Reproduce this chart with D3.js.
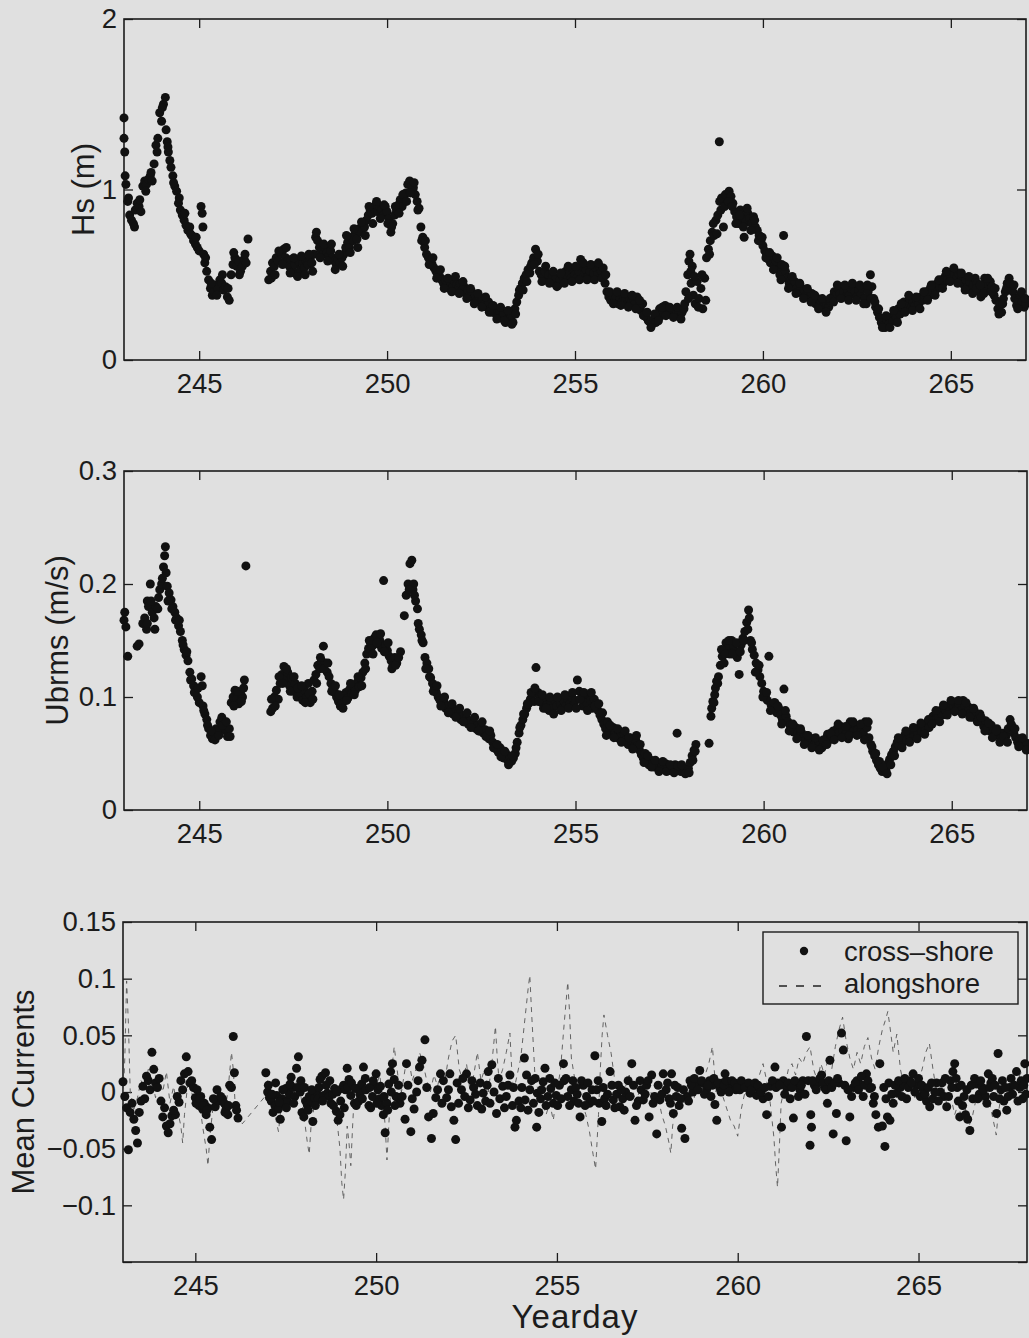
<!DOCTYPE html>
<html><head><meta charset="utf-8">
<script src="https://cdn.jsdelivr.net/npm/d3@7"></script>
<style>
html,body{margin:0;padding:0;background:#e0e0e0;}
svg{display:block;}
text{font-family:"Liberation Sans",Arial,Helvetica,sans-serif;fill:#1c1c1c;}
</style></head><body>
<svg id="chart" width="1029" height="1338"></svg>
<script>
// ---------- data (yearday, value) ----------
const hsData = [
[243.00,1.42],[243.00,1.30],[243.02,1.22],[243.03,1.08],[243.05,1.03],[243.10,0.93],[243.15,0.85],[243.20,0.82],[243.25,0.80],[243.30,0.88],
[243.35,0.92],[243.40,0.90],[243.45,0.87],[243.50,1.02],[243.55,1.05],[243.60,1.03],[243.65,1.06],[243.70,1.08],[243.75,1.05],[243.80,1.15],
[243.85,1.26],[243.90,1.30],[243.95,1.45],[244.00,1.40],[244.05,1.50],[244.10,1.54],[244.12,1.35],[244.15,1.28],[244.18,1.22],[244.22,1.17],
[244.25,1.13],[244.30,1.08],[244.35,1.02],[244.40,0.99],[244.45,0.92],[244.50,0.88],[244.55,0.85],[244.60,0.82],[244.65,0.79],[244.70,0.76],
[244.75,0.78],[244.80,0.73],[244.85,0.70],[244.90,0.68],[244.95,0.66],[245.00,0.64],[245.05,0.90],[245.08,0.86],[245.10,0.78],[245.12,0.62],
[245.15,0.57],[245.20,0.52],[245.25,0.47],[245.30,0.42],[245.35,0.38],[245.40,0.40],[245.45,0.44],[245.50,0.42],[245.55,0.47],[245.60,0.45],
[245.65,0.41],[245.70,0.43],[245.75,0.37],[245.80,0.35],[245.85,0.50],[245.90,0.56],[245.95,0.60],[246.00,0.55],[246.05,0.58],[246.10,0.52],
[246.15,0.55],[246.20,0.59],[246.25,0.57],[246.30,0.71],
[246.85,0.47],[246.90,0.52],[246.95,0.57],[247.00,0.55],[247.05,0.60],[247.10,0.58],[247.15,0.63],[247.20,0.62],[247.25,0.65],[247.30,0.60],
[247.35,0.58],[247.40,0.55],[247.45,0.59],[247.50,0.52],[247.55,0.56],[247.60,0.50],[247.65,0.58],[247.70,0.53],[247.75,0.57],[247.80,0.54],
[247.85,0.58],[247.90,0.56],[247.95,0.60],[248.00,0.57],[248.05,0.62],[248.10,0.72],[248.15,0.70],[248.20,0.66],[248.25,0.64],[248.30,0.62],
[248.35,0.66],[248.40,0.63],[248.45,0.61],[248.50,0.64],[248.55,0.60],[248.60,0.58],[248.65,0.56],[248.70,0.59],[248.75,0.57],[248.80,0.60],
[248.85,0.62],[248.90,0.66],[248.95,0.69],[249.00,0.66],[249.05,0.72],[249.10,0.70],[249.15,0.74],[249.20,0.71],[249.25,0.77],[249.30,0.75],
[249.35,0.80],[249.40,0.78],[249.45,0.82],[249.50,0.85],[249.55,0.88],[249.60,0.86],[249.65,0.89],[249.70,0.91],[249.75,0.87],[249.80,0.90],
[249.85,0.88],[249.90,0.85],[249.95,0.90],[250.00,0.87],[250.05,0.83],[250.10,0.75],[250.15,0.80],[250.20,0.85],[250.25,0.88],[250.30,0.91],
[250.35,0.94],[250.40,0.90],[250.45,0.96],[250.50,0.98],[250.55,1.03],[250.60,1.05],[250.65,1.02],[250.70,1.01],[250.75,0.97],[250.80,0.93],
[250.85,0.89],[250.90,0.78],[250.95,0.72],[251.00,0.66],[251.05,0.62],[251.10,0.60],[251.15,0.58],[251.20,0.56],[251.25,0.54],[251.30,0.52],
[251.35,0.50],[251.40,0.49],[251.45,0.47],[251.50,0.45],[251.55,0.47],[251.60,0.44],[251.65,0.42],[251.70,0.45],[251.75,0.43],[251.80,0.46],
[251.85,0.44],[251.90,0.42],[251.95,0.45],[252.00,0.41],[252.05,0.43],[252.10,0.39],[252.15,0.41],[252.20,0.38],[252.25,0.40],[252.30,0.36],
[252.35,0.38],[252.40,0.35],[252.45,0.37],[252.50,0.34],[252.55,0.36],[252.60,0.33],[252.65,0.31],[252.70,0.34],[252.75,0.30],[252.80,0.28],
[252.85,0.30],[252.90,0.27],[252.95,0.26],[253.00,0.28],[253.05,0.25],[253.10,0.27],[253.15,0.22],[253.20,0.24],[253.25,0.28],[253.30,0.25],
[253.35,0.22],[253.40,0.30],[253.45,0.34],[253.50,0.38],[253.55,0.42],[253.60,0.45],[253.65,0.48],[253.70,0.50],[253.75,0.53],[253.80,0.51],
[253.85,0.57],[253.90,0.60],[253.95,0.65],[254.00,0.58],[254.05,0.52],[254.10,0.50],[254.15,0.48],[254.20,0.52],[254.25,0.47],[254.30,0.50],
[254.35,0.46],[254.40,0.49],[254.45,0.45],[254.50,0.48],[254.55,0.44],[254.60,0.47],[254.65,0.50],[254.70,0.48],[254.75,0.52],[254.80,0.49],
[254.85,0.51],[254.90,0.48],[254.95,0.53],[255.00,0.50],[255.05,0.48],[255.10,0.52],[255.15,0.59],[255.20,0.55],[255.25,0.50],[255.30,0.53],
[255.35,0.49],[255.40,0.52],[255.45,0.48],[255.50,0.51],[255.55,0.54],[255.60,0.50],[255.65,0.55],[255.70,0.52],[255.75,0.54],[255.80,0.45],
[255.85,0.40],[255.90,0.37],[255.95,0.35],[256.00,0.38],[256.05,0.34],[256.10,0.37],[256.15,0.33],[256.20,0.36],[256.25,0.34],[256.30,0.37],
[256.35,0.35],[256.40,0.33],[256.45,0.36],[256.50,0.34],[256.55,0.36],[256.60,0.33],[256.65,0.37],[256.70,0.31],[256.75,0.29],[256.80,0.33],
[256.85,0.27],[256.90,0.25],[256.95,0.23],[257.00,0.22],[257.05,0.21],[257.10,0.24],[257.15,0.22],[257.20,0.27],[257.25,0.30],[257.30,0.26],
[257.35,0.28],[257.40,0.32],[257.45,0.29],[257.50,0.27],[257.55,0.30],[257.60,0.28],[257.65,0.26],[257.70,0.29],[257.75,0.27],[257.80,0.25],
[257.85,0.28],[257.90,0.30],[257.95,0.40],[258.00,0.50],[258.03,0.58],[258.06,0.62],[258.09,0.45],[258.12,0.55],[258.15,0.38],[258.20,0.33],
[258.25,0.46],[258.30,0.36],[258.35,0.42],[258.40,0.30],[258.45,0.48],[258.50,0.60],[258.55,0.65],[258.60,0.70],[258.65,0.75],[258.70,0.73],
[258.75,0.82],[258.80,0.85],[258.84,1.28],[258.85,0.93],[258.90,0.95],[258.95,0.78],[259.00,0.97],[259.05,0.92],[259.10,0.99],[259.15,0.96],
[259.20,0.92],[259.25,0.87],[259.30,0.84],[259.35,0.80],[259.40,0.88],[259.45,0.84],[259.50,0.72],[259.55,0.81],[259.60,0.86],[259.65,0.83],
[259.70,0.80],[259.75,0.84],[259.80,0.78],[259.85,0.76],[259.90,0.73],[259.95,0.70],[260.00,0.67],[260.05,0.64],[260.10,0.62],[260.15,0.59],
[260.20,0.57],[260.25,0.61],[260.30,0.55],[260.35,0.58],[260.40,0.53],[260.45,0.50],[260.50,0.56],[260.55,0.73],[260.60,0.52],[260.65,0.48],
[260.70,0.45],[260.75,0.47],[260.80,0.43],[260.85,0.46],[260.90,0.42],[260.95,0.40],[261.00,0.43],[261.05,0.39],[261.10,0.41],[261.15,0.38],
[261.20,0.40],[261.25,0.37],[261.30,0.39],[261.35,0.35],[261.40,0.33],[261.45,0.36],[261.50,0.32],[261.55,0.34],[261.60,0.31],[261.65,0.30],
[261.70,0.33],[261.75,0.31],[261.80,0.34],[261.85,0.37],[261.90,0.40],[261.95,0.38],[262.00,0.42],[262.05,0.39],[262.10,0.43],[262.15,0.40],
[262.20,0.37],[262.25,0.41],[262.30,0.38],[262.35,0.42],[262.40,0.44],[262.45,0.40],[262.50,0.37],[262.55,0.41],[262.60,0.38],[262.65,0.42],
[262.70,0.36],[262.75,0.33],[262.80,0.40],[262.86,0.50],[262.90,0.43],[262.95,0.36],[263.00,0.31],[263.05,0.28],[263.10,0.25],[263.15,0.22],
[263.20,0.20],[263.25,0.19],[263.30,0.23],[263.35,0.21],[263.40,0.25],[263.45,0.23],[263.50,0.27],[263.55,0.25],[263.60,0.30],[263.65,0.27],
[263.70,0.31],[263.75,0.34],[263.80,0.30],[263.85,0.33],[263.90,0.36],[263.95,0.31],[264.00,0.34],[264.05,0.32],[264.10,0.35],[264.15,0.33],
[264.20,0.37],[264.25,0.35],[264.30,0.38],[264.35,0.40],[264.40,0.37],[264.45,0.42],[264.50,0.40],[264.55,0.44],[264.60,0.41],[264.65,0.45],
[264.70,0.43],[264.75,0.47],[264.80,0.45],[264.85,0.49],[264.90,0.47],[264.95,0.51],[265.00,0.49],[265.05,0.52],[265.10,0.50],[265.15,0.48],
[265.20,0.51],[265.25,0.46],[265.30,0.49],[265.35,0.44],[265.40,0.47],[265.45,0.43],[265.50,0.46],[265.55,0.41],[265.60,0.44],[265.65,0.48],
[265.70,0.45],[265.75,0.40],[265.80,0.37],[265.85,0.42],[265.90,0.48],[265.95,0.45],[266.00,0.41],[266.05,0.46],[266.10,0.43],[266.15,0.38],
[266.20,0.35],[266.25,0.30],[266.30,0.33],[266.35,0.28],[266.40,0.36],[266.45,0.40],[266.50,0.45],[266.55,0.48],[266.60,0.44],[266.65,0.40],
[266.70,0.36],[266.75,0.32],[266.80,0.35],[266.85,0.38],[266.90,0.34],[266.95,0.31],[267.00,0.33]
];

// additional Hs samples read from the upper / lower edges of the scatter band
const hsSpread = [
[243.12,0.95],[243.28,0.78],[243.42,0.94],[243.58,0.99],[243.72,1.10],[243.88,1.22],[244.02,1.48],[244.17,1.25],[244.32,1.04],[244.47,0.95],
[244.62,0.86],[244.77,0.74],[244.92,0.72],[245.17,0.60],[245.32,0.45],[245.47,0.38],[245.62,0.50],[245.77,0.42],[245.92,0.63],[246.07,0.50],
[246.22,0.62],[246.92,0.48],[247.02,0.50],[247.12,0.64],[247.22,0.56],[247.32,0.66],[247.42,0.51],[247.52,0.60],[247.62,0.49],[247.72,0.61],
[247.82,0.50],[247.92,0.62],[248.02,0.52],[248.12,0.75],[248.22,0.60],[248.32,0.68],[248.42,0.58],[248.52,0.68],[248.62,0.53],[248.72,0.62],
[248.82,0.55],[248.92,0.73],[249.02,0.63],[249.12,0.77],[249.22,0.66],[249.32,0.81],[249.42,0.73],[249.52,0.90],[249.62,0.80],[249.72,0.93],
[249.82,0.83],[249.92,0.91],[250.02,0.80],[250.12,0.78],[250.22,0.90],[250.32,0.86],[250.42,0.97],[250.52,0.93],[250.62,0.98],[250.72,1.04],
[250.82,0.88],[250.92,0.70],[251.02,0.70],[251.12,0.56],[251.22,0.60],[251.32,0.48],[251.42,0.53],[251.52,0.42],[251.62,0.48],[251.72,0.40],
[251.82,0.49],[251.92,0.39],[252.02,0.46],[252.12,0.36],[252.22,0.42],[252.32,0.33],[252.42,0.39],[252.52,0.31],[252.62,0.37],[252.72,0.28],
[252.82,0.32],[252.92,0.24],[253.02,0.31],[253.12,0.23],[253.22,0.29],[253.32,0.21],[253.42,0.27],[253.52,0.41],[253.62,0.41],[253.72,0.46],
[253.82,0.55],[253.92,0.56],[254.02,0.62],[254.12,0.46],[254.22,0.55],[254.32,0.45],[254.42,0.52],[254.52,0.43],[254.62,0.51],[254.72,0.45],
[254.82,0.55],[254.92,0.46],[255.02,0.55],[255.12,0.47],[255.22,0.57],[255.32,0.47],[255.42,0.56],[255.52,0.47],[255.62,0.57],[255.72,0.48],
[255.82,0.50],[255.92,0.40],[256.02,0.33],[256.12,0.40],[256.22,0.32],[256.32,0.39],[256.42,0.31],[256.52,0.38],[256.62,0.30],[256.72,0.35],
[256.82,0.26],[256.92,0.28],[257.02,0.19],[257.12,0.27],[257.22,0.23],[257.32,0.31],[257.42,0.26],[257.52,0.31],[257.62,0.25],[257.72,0.31],
[257.82,0.24],[257.92,0.33],[258.02,0.36],[258.08,0.52],[258.18,0.49],[258.28,0.31],[258.38,0.50],[258.48,0.35],[258.58,0.62],[258.68,0.80],
[258.78,0.74],[258.88,0.88],[258.98,0.90],[259.08,0.93],[259.18,0.90],[259.28,0.80],[259.38,0.85],[259.48,0.78],[259.58,0.89],[259.68,0.76],
[259.78,0.82],[259.88,0.70],[259.98,0.72],[260.08,0.60],[260.18,0.63],[260.28,0.53],[260.38,0.60],[260.48,0.47],[260.58,0.55],[260.68,0.42],
[260.78,0.49],[260.88,0.39],[260.98,0.45],[261.08,0.36],[261.18,0.42],[261.28,0.34],[261.38,0.38],[261.48,0.30],[261.58,0.36],[261.68,0.28],
[261.78,0.36],[261.88,0.34],[261.98,0.44],[262.08,0.36],[262.18,0.44],[262.28,0.35],[262.38,0.45],[262.48,0.35],[262.58,0.44],[262.68,0.33],
[262.78,0.44],[262.88,0.36],[262.98,0.34],[263.08,0.30],[263.18,0.19],[263.28,0.26],[263.38,0.19],[263.48,0.29],[263.58,0.22],[263.68,0.33],
[263.78,0.28],[263.88,0.38],[263.98,0.29],[264.08,0.37],[264.18,0.30],[264.28,0.40],[264.38,0.35],[264.48,0.44],[264.58,0.38],[264.68,0.47],
[264.78,0.42],[264.88,0.52],[264.98,0.46],[265.08,0.54],[265.18,0.45],[265.28,0.51],[265.38,0.41],[265.48,0.49],[265.58,0.39],[265.68,0.42],
[265.78,0.44],[265.88,0.39],[265.98,0.48],[266.08,0.40],[266.18,0.42],[266.28,0.27],[266.38,0.33],[266.48,0.42],[266.58,0.45],[266.68,0.44],
[266.78,0.30],[266.88,0.40],[266.98,0.36]
];

const ubrmsData = [
[243.00,0.168],[243.02,0.175],[243.05,0.162],[243.10,0.136],[243.35,0.145],[243.40,0.147],[243.50,0.165],[243.55,0.170],[243.60,0.160],[243.62,0.185],
[243.65,0.180],[243.70,0.200],[243.75,0.175],[243.80,0.170],[243.85,0.180],[243.90,0.178],[243.95,0.195],[244.00,0.200],[244.05,0.215],[244.08,0.225],
[244.10,0.233],[244.12,0.210],[244.15,0.198],[244.20,0.192],[244.25,0.186],[244.30,0.180],[244.35,0.175],[244.40,0.170],[244.45,0.163],[244.50,0.158],
[244.55,0.150],[244.60,0.142],[244.65,0.137],[244.70,0.132],[244.75,0.122],[244.80,0.116],[244.85,0.110],[244.90,0.105],[244.95,0.100],[245.00,0.095],
[245.05,0.118],[245.08,0.110],[245.10,0.092],[245.15,0.085],[245.20,0.080],[245.25,0.072],[245.30,0.066],[245.35,0.063],[245.40,0.068],[245.45,0.072],
[245.50,0.070],[245.55,0.078],[245.60,0.082],[245.65,0.075],[245.70,0.070],[245.75,0.065],[245.80,0.072],[245.85,0.095],[245.90,0.100],[245.95,0.106],
[246.00,0.098],[246.05,0.094],[246.10,0.103],[246.15,0.100],[246.20,0.115],[246.24,0.216],
[246.90,0.087],[246.95,0.090],[247.00,0.100],[247.05,0.106],[247.10,0.098],[247.15,0.112],[247.20,0.120],[247.25,0.127],[247.30,0.115],[247.35,0.122],
[247.40,0.110],[247.45,0.117],[247.50,0.105],[247.55,0.112],[247.60,0.100],[247.65,0.108],[247.70,0.103],[247.75,0.097],[247.80,0.106],[247.85,0.100],
[247.90,0.112],[247.95,0.095],[248.00,0.105],[248.05,0.115],[248.10,0.120],[248.15,0.128],[248.20,0.125],[248.25,0.132],[248.30,0.145],[248.35,0.130],
[248.40,0.122],[248.45,0.118],[248.50,0.112],[248.55,0.108],[248.60,0.104],[248.65,0.100],[248.70,0.096],[248.75,0.092],[248.80,0.095],[248.85,0.100],
[248.90,0.104],[248.95,0.099],[249.00,0.107],[249.05,0.103],[249.10,0.110],[249.15,0.106],[249.20,0.113],[249.25,0.109],[249.30,0.117],[249.35,0.122],
[249.40,0.130],[249.45,0.138],[249.50,0.143],[249.55,0.148],[249.60,0.145],[249.65,0.152],[249.70,0.155],[249.75,0.147],[249.80,0.150],[249.85,0.143],
[249.90,0.203],[249.95,0.146],[250.00,0.141],[250.05,0.136],[250.10,0.132],[250.15,0.128],[250.20,0.135],[250.25,0.130],[250.35,0.140],[250.45,0.172],
[250.50,0.190],[250.55,0.200],[250.60,0.218],[250.65,0.221],[250.68,0.195],[250.70,0.200],[250.75,0.185],[250.80,0.178],[250.85,0.160],[250.90,0.155],
[250.95,0.148],[251.00,0.135],[251.05,0.130],[251.10,0.125],[251.15,0.117],[251.20,0.112],[251.25,0.108],[251.30,0.104],[251.35,0.100],[251.40,0.097],
[251.45,0.094],[251.50,0.096],[251.55,0.090],[251.60,0.092],[251.65,0.087],[251.70,0.090],[251.75,0.085],[251.80,0.088],[251.85,0.083],[251.90,0.086],
[251.95,0.080],[252.00,0.083],[252.05,0.078],[252.10,0.081],[252.15,0.076],[252.20,0.079],[252.25,0.074],[252.30,0.077],[252.35,0.072],[252.40,0.075],
[252.45,0.070],[252.50,0.073],[252.55,0.068],[252.60,0.071],[252.65,0.066],[252.70,0.063],[252.75,0.066],[252.80,0.060],[252.85,0.057],[252.90,0.054],
[252.95,0.051],[253.00,0.055],[253.05,0.049],[253.10,0.046],[253.15,0.050],[253.20,0.044],[253.25,0.047],[253.30,0.043],[253.35,0.046],[253.40,0.050],
[253.45,0.060],[253.50,0.068],[253.55,0.075],[253.60,0.080],[253.65,0.085],[253.70,0.090],[253.75,0.094],[253.80,0.098],[253.85,0.102],[253.90,0.096],
[253.95,0.126],[254.00,0.104],[254.05,0.100],[254.10,0.095],[254.15,0.090],[254.20,0.098],[254.25,0.093],[254.30,0.088],[254.35,0.095],[254.40,0.090],
[254.45,0.097],[254.50,0.092],[254.55,0.099],[254.60,0.094],[254.65,0.090],[254.70,0.096],[254.75,0.092],[254.80,0.098],[254.85,0.094],[254.90,0.100],
[254.95,0.093],[255.00,0.097],[255.05,0.115],[255.10,0.105],[255.15,0.098],[255.20,0.092],[255.25,0.100],[255.30,0.095],[255.35,0.102],[255.40,0.097],
[255.45,0.090],[255.50,0.098],[255.55,0.094],[255.60,0.088],[255.65,0.084],[255.70,0.080],[255.75,0.076],[255.80,0.072],[255.85,0.078],[255.90,0.070],
[255.95,0.067],[256.00,0.073],[256.05,0.068],[256.10,0.064],[256.15,0.070],[256.20,0.065],[256.25,0.061],[256.30,0.067],[256.35,0.062],[256.40,0.058],
[256.45,0.064],[256.50,0.060],[256.55,0.056],[256.60,0.062],[256.65,0.057],[256.70,0.053],[256.75,0.049],[256.80,0.046],[256.85,0.050],[256.90,0.043],
[256.95,0.040],[257.00,0.044],[257.05,0.041],[257.10,0.038],[257.15,0.042],[257.20,0.039],[257.25,0.036],[257.30,0.040],[257.35,0.037],[257.40,0.041],
[257.45,0.038],[257.50,0.035],[257.55,0.039],[257.60,0.036],[257.65,0.040],[257.70,0.068],[257.75,0.037],[257.80,0.034],[257.85,0.038],[257.90,0.035],
[257.95,0.033],[258.00,0.037],[258.05,0.042],[258.10,0.048],[258.15,0.053],[258.20,0.058],[258.55,0.059],[258.60,0.083],[258.62,0.090],[258.65,0.096],
[258.70,0.102],[258.72,0.108],[258.75,0.114],[258.80,0.118],[258.85,0.128],[258.90,0.136],[258.95,0.130],[259.00,0.148],[259.05,0.143],[259.10,0.138],
[259.15,0.150],[259.20,0.145],[259.25,0.140],[259.30,0.135],[259.35,0.120],[259.40,0.146],[259.45,0.152],[259.50,0.158],[259.55,0.166],[259.60,0.177],
[259.62,0.170],[259.65,0.150],[259.70,0.142],[259.75,0.137],[259.80,0.130],[259.85,0.124],[259.90,0.118],[259.95,0.112],[260.00,0.105],[260.05,0.100],
[260.10,0.097],[260.14,0.136],[260.20,0.093],[260.25,0.089],[260.30,0.095],[260.35,0.086],[260.40,0.090],[260.45,0.084],[260.50,0.080],[260.54,0.107],
[260.60,0.083],[260.65,0.078],[260.70,0.075],[260.75,0.072],[260.80,0.069],[260.85,0.073],[260.90,0.068],[260.95,0.065],[261.00,0.069],[261.05,0.064],
[261.10,0.061],[261.15,0.066],[261.20,0.062],[261.25,0.059],[261.30,0.063],[261.35,0.058],[261.40,0.061],[261.45,0.057],[261.50,0.060],[261.55,0.055],
[261.60,0.059],[261.65,0.063],[261.70,0.067],[261.75,0.062],[261.80,0.066],[261.85,0.070],[261.90,0.065],[261.95,0.072],[262.00,0.068],[262.05,0.074],
[262.10,0.070],[262.15,0.065],[262.20,0.069],[262.25,0.063],[262.30,0.078],[262.35,0.074],[262.40,0.070],[262.45,0.075],[262.50,0.071],[262.55,0.067],
[262.60,0.072],[262.65,0.068],[262.70,0.078],[262.75,0.073],[262.80,0.064],[262.85,0.058],[262.90,0.052],[262.95,0.048],[263.00,0.044],[263.05,0.040],
[263.10,0.037],[263.15,0.034],[263.20,0.038],[263.25,0.035],[263.30,0.041],[263.35,0.045],[263.40,0.049],[263.45,0.052],[263.50,0.056],[263.55,0.060],
[263.60,0.057],[263.65,0.063],[263.70,0.060],[263.75,0.066],[263.80,0.062],[263.85,0.068],[263.90,0.064],[263.95,0.070],[264.00,0.065],[264.05,0.071],
[264.10,0.067],[264.15,0.073],[264.20,0.069],[264.25,0.075],[264.30,0.071],[264.35,0.077],[264.40,0.073],[264.45,0.079],[264.50,0.083],[264.55,0.080],
[264.60,0.086],[264.65,0.082],[264.70,0.088],[264.75,0.084],[264.80,0.090],[264.85,0.087],[264.90,0.092],[264.95,0.089],[265.00,0.094],[265.05,0.091],
[265.10,0.095],[265.15,0.090],[265.20,0.093],[265.25,0.088],[265.30,0.097],[265.35,0.092],[265.40,0.087],[265.45,0.091],[265.50,0.086],[265.55,0.082],
[265.60,0.088],[265.65,0.084],[265.70,0.080],[265.75,0.085],[265.80,0.078],[265.85,0.074],[265.90,0.079],[265.95,0.073],[266.00,0.070],[266.05,0.075],
[266.10,0.069],[266.15,0.066],[266.20,0.072],[266.25,0.067],[266.30,0.063],[266.35,0.068],[266.40,0.062],[266.45,0.066],[266.50,0.072],[266.55,0.080],
[266.60,0.074],[266.65,0.068],[266.70,0.064],[266.75,0.060],[266.80,0.063],[266.85,0.058],[266.90,0.061],[266.95,0.057],[267.00,0.059]
];

// additional Ubrms samples read from the upper / lower edges of the scatter band
const ubrmsSpread = [
[243.62,0.165],[243.72,0.185],[243.82,0.160],[243.92,0.188],[244.02,0.205],[244.17,0.185],[244.27,0.178],[244.37,0.168],[244.47,0.168],[244.57,0.146],
[244.67,0.140],[244.77,0.115],[244.87,0.104],[244.97,0.108],[245.12,0.088],[245.22,0.075],[245.32,0.070],[245.42,0.062],[245.52,0.066],[245.62,0.075],
[245.72,0.078],[245.82,0.065],[245.92,0.092],[246.02,0.105],[246.12,0.096],[246.18,0.108],[246.92,0.098],[247.02,0.092],[247.12,0.118],[247.22,0.112],
[247.32,0.125],[247.42,0.105],[247.52,0.118],[247.62,0.108],[247.72,0.110],[247.82,0.095],[247.92,0.103],[248.02,0.098],[248.12,0.112],[248.22,0.135],
[248.32,0.125],[248.42,0.130],[248.52,0.105],[248.62,0.110],[248.72,0.102],[248.82,0.090],[248.92,0.097],[249.02,0.112],[249.12,0.102],[249.22,0.118],
[249.32,0.110],[249.42,0.125],[249.52,0.150],[249.62,0.138],[249.72,0.148],[249.82,0.156],[249.92,0.140],[250.02,0.148],[250.12,0.125],[250.22,0.128],
[250.30,0.135],[250.58,0.195],[250.72,0.190],[250.82,0.165],[250.92,0.150],[251.02,0.125],[251.12,0.118],[251.22,0.105],[251.32,0.110],[251.42,0.092],
[251.52,0.100],[251.62,0.086],[251.72,0.094],[251.82,0.082],[251.92,0.090],[252.02,0.078],[252.12,0.086],[252.22,0.073],[252.32,0.082],[252.42,0.070],
[252.52,0.078],[252.62,0.065],[252.72,0.070],[252.82,0.055],[252.92,0.058],[253.02,0.047],[253.12,0.052],[253.22,0.040],[253.32,0.048],[253.42,0.055],
[253.52,0.073],[253.62,0.085],[253.72,0.094],[253.82,0.104],[253.92,0.108],[254.02,0.096],[254.12,0.102],[254.22,0.090],[254.32,0.100],[254.42,0.085],
[254.52,0.100],[254.62,0.088],[254.72,0.102],[254.82,0.090],[254.92,0.104],[255.02,0.090],[255.12,0.098],[255.22,0.104],[255.32,0.088],[255.42,0.104],
[255.52,0.092],[255.62,0.094],[255.72,0.086],[255.82,0.066],[255.92,0.075],[256.02,0.064],[256.12,0.072],[256.22,0.060],[256.32,0.070],[256.42,0.064],
[256.52,0.054],[256.62,0.066],[256.72,0.058],[256.82,0.042],[256.92,0.048],[257.02,0.038],[257.12,0.044],[257.22,0.034],[257.32,0.043],[257.42,0.034],
[257.52,0.040],[257.62,0.033],[257.72,0.039],[257.82,0.040],[257.92,0.032],[258.02,0.033],[258.12,0.044],[258.18,0.052],[258.68,0.095],[258.78,0.112],
[258.88,0.142],[258.98,0.138],[259.08,0.150],[259.18,0.138],[259.28,0.148],[259.38,0.140],[259.48,0.150],[259.58,0.160],[259.68,0.148],[259.78,0.122],
[259.88,0.128],[259.98,0.100],[260.08,0.104],[260.18,0.088],[260.28,0.095],[260.38,0.092],[260.48,0.076],[260.58,0.088],[260.68,0.070],[260.78,0.076],
[260.88,0.063],[260.98,0.072],[261.08,0.058],[261.18,0.066],[261.28,0.055],[261.38,0.064],[261.48,0.053],[261.58,0.062],[261.68,0.058],[261.78,0.068],
[261.88,0.062],[261.98,0.076],[262.08,0.064],[262.18,0.074],[262.28,0.066],[262.38,0.078],[262.48,0.066],[262.58,0.076],[262.68,0.062],[262.78,0.078],
[262.88,0.056],[262.98,0.050],[263.08,0.043],[263.18,0.038],[263.28,0.032],[263.38,0.040],[263.48,0.048],[263.58,0.064],[263.68,0.055],[263.78,0.070],
[263.88,0.060],[263.98,0.073],[264.08,0.063],[264.18,0.077],[264.28,0.067],[264.38,0.080],[264.48,0.076],[264.58,0.088],[264.68,0.078],[264.78,0.093],
[264.88,0.084],[264.98,0.097],[265.08,0.087],[265.18,0.097],[265.28,0.085],[265.38,0.095],[265.48,0.082],[265.58,0.090],[265.68,0.078],[265.78,0.082],
[265.88,0.070],[265.98,0.077],[266.08,0.064],[266.18,0.070],[266.28,0.060],[266.38,0.065],[266.48,0.060],[266.58,0.076],[266.68,0.072],[266.78,0.056],
[266.88,0.064],[266.98,0.053]
];

const crossShore = [
[243.00,0.009],[243.10,-0.014],[243.15,-0.051],[243.25,-0.010],[243.30,-0.024],[243.35,-0.034],[243.40,-0.045],[243.45,-0.018],[243.55,0.005],[243.60,-0.006],
[243.70,0.010],[243.75,0.002],[243.80,0.035],[243.85,0.020],[243.90,0.008],[244.00,0.012],[244.05,-0.008],[244.10,-0.022],[244.20,-0.030],[244.25,-0.036],
[244.35,-0.021],[244.45,-0.020],[244.55,-0.009],[244.65,0.002],[244.75,0.031],[244.80,0.018],[244.85,0.008],[244.95,0.004],[245.00,-0.005],[245.05,0.002],
[245.10,-0.012],[245.15,-0.004],[245.20,-0.015],[245.25,-0.010],[245.30,-0.020],[245.35,-0.014],[245.40,-0.031],[245.45,-0.042],[245.55,-0.013],[245.60,0.002],
[245.65,-0.008],[245.75,-0.006],[245.80,-0.010],[245.85,-0.015],[245.90,-0.020],[245.95,0.006],[246.05,0.049],[246.08,0.017],[246.12,-0.012],[246.18,-0.023],
[246.95,0.017],[247.00,0.000],[247.05,-0.005],[247.10,-0.008],[247.15,-0.018],[247.20,-0.012],[247.25,-0.003],[247.30,-0.015],[247.35,-0.024],[247.40,-0.006],
[247.45,-0.010],[247.50,0.003],[247.55,-0.008],[247.60,-0.002],[247.65,0.013],[247.70,0.004],[247.75,-0.004],[247.80,0.021],[247.85,0.031],[247.90,0.000],
[247.95,-0.018],[248.00,-0.022],[248.05,-0.008],[248.10,-0.012],[248.15,-0.004],[248.20,-0.008],[248.25,-0.026],[248.30,-0.005],[248.35,0.000],[248.40,-0.006],
[248.45,0.011],[248.50,0.014],[248.55,-0.003],[248.60,0.017],[248.65,-0.001],[248.70,-0.004],[248.75,-0.010],[248.80,-0.002],[248.85,0.003],[248.90,-0.017],
[248.95,-0.025],[249.00,-0.020],[249.05,0.003],[249.10,0.006],[249.15,0.002],[249.20,0.021],[249.25,0.011],[249.30,-0.003],[249.40,-0.010],[249.45,-0.012],
[249.50,0.003],[249.55,-0.002],[249.60,0.007],[249.65,0.022],[249.70,0.012],[249.80,-0.012],[249.85,-0.014],[249.90,-0.004],[249.95,0.006],[250.00,0.016],
[250.05,0.002],[250.10,-0.006],[250.15,-0.012],[250.20,-0.020],[250.25,-0.036],[250.30,-0.010],[250.35,0.007],[250.40,0.018],[250.45,0.025],[250.50,0.011],
[250.55,-0.004],[250.60,-0.005],[250.66,-0.010],[250.80,-0.024],[250.84,0.025],[250.96,-0.035],[251.05,-0.015],[251.12,0.000],[251.20,0.022],[251.27,0.028],
[251.35,0.046],[251.45,-0.022],[251.53,-0.041],[251.58,-0.019],[251.65,-0.005],[251.78,0.016],[251.86,0.010],[251.95,-0.005],[252.04,0.016],[252.08,-0.013],
[252.15,-0.025],[252.20,-0.042],[252.28,-0.010],[252.36,0.002],[252.45,-0.004],[252.50,0.016],[252.60,-0.007],[252.70,0.004],[252.80,-0.012],[252.88,0.008],
[252.96,-0.001],[253.03,-0.008],[253.10,0.018],[253.20,0.024],[253.26,0.000],[253.33,-0.019],[253.42,-0.006],[253.50,0.005],[253.60,-0.004],[253.70,0.015],
[253.77,-0.012],[253.84,-0.031],[253.88,-0.025],[253.95,-0.008],[254.03,0.004],[254.10,0.030],[254.12,-0.007],[254.16,0.015],[254.25,0.002],[254.35,-0.010],
[254.44,-0.031],[254.46,-0.001],[254.55,-0.006],[254.62,0.009],[254.67,0.021],[254.75,-0.004],[254.83,0.003],[254.90,-0.010],[254.98,-0.003],[255.07,0.006],
[255.18,0.025],[255.20,0.010],[255.30,-0.004],[255.40,0.002],[255.48,-0.008],[255.56,-0.002],[255.64,-0.022],[255.73,0.006],[255.82,-0.004],[255.90,-0.010],
[255.97,0.002],[256.05,0.032],[256.10,0.002],[256.17,-0.010],[256.24,-0.026],[256.32,-0.006],[256.40,-0.002],[256.47,0.018],[256.56,-0.007],[256.65,-0.002],
[256.74,-0.013],[256.82,-0.006],[256.90,0.000],[256.97,0.010],[257.07,0.025],[257.16,-0.025],[257.25,-0.008],[257.33,0.002],[257.39,-0.007],[257.48,0.006],
[257.55,-0.022],[257.62,0.015],[257.70,-0.004],[257.76,-0.037],[257.85,-0.007],[257.94,0.016],[258.02,0.002],[258.10,-0.006],[258.17,0.016],[258.22,-0.019],
[258.30,-0.004],[258.38,-0.012],[258.45,-0.032],[258.54,-0.041],[258.60,-0.004],[258.68,0.010],[258.76,0.000],[258.85,0.006],[258.95,0.019],[259.03,0.008],
[259.14,0.002],[259.22,0.010],[259.30,0.006],[259.37,-0.011],[259.42,-0.025],[259.50,0.004],[259.58,0.008],[259.65,0.016],[259.72,0.004],[259.79,0.004],
[259.88,0.006],[259.95,0.002],[260.06,0.002],[260.14,0.006],[260.25,0.007],[260.34,-0.001],[260.43,0.004],[260.52,-0.003],[260.60,0.003],[260.70,-0.006],
[260.80,-0.020],[260.90,0.005],[261.03,0.022],[261.10,0.008],[261.21,-0.031],[261.26,0.010],[261.35,0.004],[261.45,-0.006],[261.54,-0.023],[261.63,0.006],
[261.72,0.002],[261.80,0.010],[261.90,0.049],[261.95,0.010],[262.00,-0.047],[262.02,-0.020],[262.04,-0.031],[262.12,0.006],[262.22,0.008],[262.32,0.015],
[262.40,0.004],[262.48,-0.010],[262.55,0.028],[262.64,-0.037],[262.73,-0.019],[262.80,0.008],[262.87,0.052],[262.92,0.037],[263.00,-0.043],[263.10,-0.022],
[263.20,0.004],[263.30,0.010],[263.38,0.007],[263.47,-0.004],[263.56,0.016],[263.65,0.003],[263.75,-0.010],[263.82,-0.020],[263.89,-0.031],[263.93,0.025],
[264.00,-0.030],[264.07,-0.048],[264.14,-0.022],[264.21,-0.025],[264.30,-0.010],[264.40,-0.001],[264.50,0.004],[264.58,0.007],[264.67,-0.006],[264.76,0.010],
[264.85,0.016],[264.95,0.006],[265.05,-0.004],[265.13,0.002],[265.22,-0.008],[265.31,-0.013],[265.40,-0.006],[265.50,0.008],[265.60,0.000],[265.70,-0.004],
[265.78,-0.013],[265.88,0.010],[265.95,0.018],[266.00,0.025],[266.07,0.004],[266.14,-0.022],[266.22,-0.012],[266.30,-0.020],[266.36,-0.024],[266.42,-0.034],
[266.50,-0.006],[266.60,0.007],[266.68,-0.002],[266.76,0.004],[266.85,-0.004],[266.93,0.016],[267.00,0.008],[267.08,-0.004],[267.16,-0.019],[267.20,0.034],
[267.28,0.002],[267.36,-0.008],[267.44,-0.016],[267.52,0.004],[267.60,-0.002],[267.71,0.018],[267.80,0.004],[267.88,-0.006],[267.94,0.025],[268.00,0.012],
[243.05,-0.004],[243.20,-0.018],[243.50,-0.008],[243.65,0.014],[243.95,0.004],[244.15,-0.014],[244.30,-0.028],[244.40,-0.016],[244.50,-0.004],[244.60,0.010],
[244.70,0.016],[244.90,0.010],[245.02,-0.010],[245.12,-0.006],[245.22,-0.012],[245.32,-0.016],[245.50,-0.006],[245.70,-0.004],[245.82,-0.018],[245.92,-0.012],
[246.00,0.004],[246.14,-0.016],[247.02,0.006],[247.12,-0.002],[247.22,0.008],[247.32,-0.009],[247.42,0.002],[247.52,-0.014],[247.62,0.007],[247.72,-0.010],
[247.82,0.004],[247.92,0.010],[248.02,0.004],[248.12,-0.016],[248.22,0.002],[248.32,-0.012],[248.42,0.004],[248.52,-0.008],[248.62,0.006],[248.72,0.010],
[248.82,-0.012],[248.92,0.000],[249.02,-0.008],[249.12,-0.014],[249.22,0.004],[249.32,0.008],[249.42,0.003],[249.52,-0.008],[249.62,-0.006],[249.72,0.002],
[249.82,0.004],[249.92,0.010],[250.02,-0.010],[250.12,0.005],[250.22,-0.004],[250.32,-0.016],[250.42,0.000],[250.52,-0.012],[250.62,0.006],[250.72,-0.004],
[250.88,0.006],[251.00,-0.006],[251.16,0.010],[251.40,0.004],[251.70,0.002],[251.82,-0.010],[252.00,0.002],[252.24,0.008],[252.40,0.012],[252.55,-0.014],
[252.65,0.010],[252.75,-0.002],[252.92,-0.015],[253.07,0.006],[253.15,-0.010],[253.38,0.012],[253.55,-0.014],[253.65,0.006],[253.80,0.004],[254.00,-0.014],
[254.20,-0.016],[254.30,0.010],[254.40,0.012],[254.50,-0.018],[254.58,0.002],[254.70,-0.012],[254.80,0.012],[254.94,0.008],[255.02,-0.012],[255.12,-0.006],
[255.25,0.012],[255.35,-0.012],[255.44,0.010],[255.52,0.004],[255.60,-0.010],[255.68,0.010],[255.78,-0.012],[255.86,0.008],[256.00,-0.008],[256.14,0.010],
[256.28,0.004],[256.36,-0.012],[256.52,0.006],[256.60,-0.014],[256.70,0.006],[256.78,0.002],[256.86,-0.016],[257.02,-0.004],[257.12,0.006],[257.20,-0.012],
[257.30,0.010],[257.44,-0.002],[257.52,0.010],[257.66,-0.010],[257.80,0.006],[257.90,-0.002],[258.06,0.008],[258.14,-0.010],[258.26,0.006],[258.34,0.004],
[258.42,-0.006],[258.50,0.002],[258.64,-0.008],[258.72,0.006],[258.80,0.012],[258.90,0.002],[259.00,0.010],[259.08,-0.002],[259.18,0.006],[259.26,-0.004],
[259.34,0.012],[259.46,0.008],[259.54,0.000],[259.62,0.006],[259.68,0.010],[259.76,0.000],[259.84,0.010],[259.92,0.008],[260.00,0.004],[260.10,0.010],
[260.20,0.004],[260.30,0.008],[260.38,0.002],[260.48,0.008],[260.56,0.006],[260.65,0.000],[260.75,0.004],[260.85,-0.004],[260.96,0.010],[261.06,0.004],
[261.16,0.006],[261.30,-0.002],[261.40,0.008],[261.50,0.004],[261.58,0.010],[261.68,-0.004],[261.76,0.006],[261.86,-0.002],[262.07,0.010],[262.17,0.002],
[262.27,0.012],[262.36,0.008],[262.44,0.002],[262.52,0.010],[262.60,0.004],[262.68,0.008],[262.76,0.012],[262.96,0.006],[263.05,0.002],[263.15,-0.004],
[263.25,0.008],[263.34,0.002],[263.42,0.014],[263.52,0.006],[263.60,0.010],[263.70,0.004],[263.78,-0.004],[264.04,0.004],[264.10,-0.006],[264.18,0.008],
[264.26,-0.002],[264.35,0.006],[264.45,0.010],[264.54,-0.004],[264.62,0.012],[264.72,0.004],[264.80,0.008],[264.90,0.000],[265.00,0.012],[265.09,0.006],
[265.18,-0.002],[265.27,0.004],[265.36,0.008],[265.45,0.000],[265.55,-0.008],[265.65,0.008],[265.74,0.012],[265.83,-0.004],[265.92,0.004],[266.04,0.012],
[266.10,-0.008],[266.18,0.006],[266.26,-0.004],[266.34,0.002],[266.46,0.006],[266.55,0.012],[266.64,-0.006],[266.72,0.010],[266.80,0.002],[266.89,-0.010],
[266.97,0.004],[267.04,0.012],[267.12,0.006],[267.24,-0.006],[267.32,0.010],[267.40,0.004],[267.48,-0.004],[267.56,0.012],[267.65,0.006],[267.75,-0.008],
[267.84,0.010],[267.91,0.006],[267.97,-0.002]
];

const alongShore = [
[243.00,-0.010],[243.05,0.030],[243.10,0.098],[243.15,0.060],[243.20,0.000],[243.30,-0.015],[243.40,-0.005],[243.50,0.010],[243.60,0.005],[243.70,0.020],
[243.80,0.010],[243.90,-0.005],[244.00,0.012],[244.10,0.000],[244.20,0.018],[244.30,-0.010],[244.40,0.005],[244.50,-0.015],[244.60,-0.030],[244.65,-0.045],
[244.70,-0.020],[244.80,0.010],[244.90,0.000],[245.00,-0.015],[245.10,-0.005],[245.20,-0.030],[245.30,-0.050],[245.35,-0.065],[245.40,-0.040],[245.50,-0.010],
[245.60,0.000],[245.70,-0.010],[245.80,-0.020],[245.90,0.000],[246.00,0.035],[246.05,0.020],[246.10,-0.010],[246.20,-0.020],[246.30,-0.028],[246.90,-0.005],
[247.00,0.010],[247.10,-0.010],[247.20,-0.020],[247.30,-0.035],[247.35,-0.020],[247.40,0.000],[247.50,-0.010],[247.60,0.005],[247.70,-0.005],[247.80,0.010],
[247.90,0.000],[248.00,-0.020],[248.10,-0.045],[248.15,-0.055],[248.20,-0.030],[248.30,-0.010],[248.40,0.005],[248.50,-0.005],[248.60,0.010],[248.70,-0.010],
[248.80,0.000],[248.90,-0.020],[249.00,-0.050],[249.05,-0.080],[249.10,-0.095],[249.15,-0.070],[249.20,-0.030],[249.25,-0.045],[249.30,-0.065],[249.35,-0.030],
[249.40,0.000],[249.50,0.010],[249.60,-0.005],[249.70,0.015],[249.80,0.000],[249.90,-0.010],[250.00,0.005],[250.10,0.015],[250.20,-0.010],[250.25,-0.030],
[250.30,-0.060],[250.35,-0.030],[250.40,0.000],[250.45,0.025],[250.50,0.040],[250.60,0.015],[250.70,0.000],[250.80,0.020],[250.90,0.030],[251.00,0.010],
[251.10,0.020],[251.20,0.035],[251.30,0.025],[251.40,0.010],[251.50,0.000],[251.60,0.015],[251.70,0.005],[251.80,0.020],[251.90,0.010],[252.00,0.030],
[252.10,0.045],[252.20,0.050],[252.30,0.020],[252.40,0.010],[252.50,0.025],[252.60,0.000],[252.70,0.015],[252.80,0.035],[252.90,0.010],[253.00,0.020],
[253.10,0.000],[253.20,0.025],[253.30,0.058],[253.35,0.030],[253.40,0.010],[253.50,0.020],[253.60,0.035],[253.70,0.052],[253.75,0.020],[253.80,0.000],
[253.90,0.015],[254.00,0.030],[254.10,0.060],[254.20,0.090],[254.25,0.103],[254.30,0.070],[254.35,0.040],[254.40,0.010],[254.50,0.000],[254.60,-0.010],
[254.70,-0.020],[254.80,-0.010],[254.90,-0.025],[255.00,0.000],[255.10,0.020],[255.20,0.060],[255.30,0.097],[255.35,0.070],[255.40,0.030],[255.50,0.010],
[255.60,-0.005],[255.70,-0.010],[255.80,-0.020],[255.90,-0.035],[256.00,-0.055],[256.07,-0.068],[256.15,-0.020],[256.20,0.020],[256.25,0.050],[256.30,0.068],
[256.40,0.050],[256.50,0.034],[256.60,0.010],[256.70,0.000],[256.80,-0.010],[256.90,0.005],[257.00,0.015],[257.10,0.000],[257.20,-0.010],[257.30,0.005],
[257.40,-0.005],[257.50,0.010],[257.60,0.000],[257.70,-0.010],[257.80,-0.005],[257.90,-0.020],[258.00,-0.030],[258.10,-0.045],[258.15,-0.054],[258.20,-0.030],
[258.30,-0.010],[258.40,0.000],[258.50,-0.010],[258.60,0.005],[258.70,0.000],[258.80,-0.005],[258.90,0.010],[259.00,0.000],[259.10,0.015],[259.20,0.025],
[259.30,0.040],[259.35,0.020],[259.40,0.000],[259.50,0.010],[259.60,-0.005],[259.70,-0.015],[259.80,-0.025],[259.90,-0.030],[260.00,-0.039],[260.10,-0.015],
[260.20,0.000],[260.30,0.010],[260.40,0.000],[260.50,0.010],[260.60,0.015],[260.70,0.025],[260.80,0.010],[260.90,-0.010],[261.00,-0.040],[261.05,-0.065],
[261.10,-0.084],[261.15,-0.050],[261.20,-0.010],[261.30,0.005],[261.40,0.020],[261.50,0.025],[261.60,0.015],[261.70,0.030],[261.80,0.025],[261.90,0.035],
[262.00,0.040],[262.10,0.020],[262.20,0.010],[262.30,0.025],[262.40,0.015],[262.50,0.030],[262.60,0.020],[262.70,0.040],[262.80,0.055],[262.90,0.066],
[263.00,0.045],[263.10,0.030],[263.20,0.020],[263.30,0.035],[263.40,0.025],[263.50,0.040],[263.60,0.048],[263.70,0.030],[263.80,0.020],[263.90,0.040],
[264.00,0.055],[264.10,0.065],[264.15,0.071],[264.20,0.060],[264.30,0.035],[264.40,0.051],[264.50,0.020],[264.60,0.005],[264.70,0.000],[264.80,0.010],
[264.90,-0.005],[265.00,0.010],[265.10,0.020],[265.20,0.035],[265.30,0.043],[265.40,0.020],[265.50,0.000],[265.60,-0.010],[265.70,0.005],[265.80,-0.015],
[265.90,-0.005],[266.00,-0.020],[266.10,-0.010],[266.20,-0.025],[266.30,-0.015],[266.40,-0.030],[266.50,-0.020],[266.60,-0.005],[266.70,0.000],[266.80,-0.010],
[266.90,0.005],[267.00,-0.015],[267.10,-0.030],[267.15,-0.038],[267.20,-0.020],[267.30,0.000],[267.40,0.010],[267.50,-0.005],[267.60,0.010],[267.70,0.005],
[267.80,0.015],[267.90,0.020],[268.00,0.027]
];

const dayTicks = [245, 250, 255, 260, 265];
const hsTicks = [0, 1, 2];
const ubrmsTicks = [0, 0.1, 0.2, 0.3];
const currentTicks = [-0.15, -0.1, -0.05, 0, 0.05, 0.1, 0.15];
const currentTickLabels = ["", "\u22120.1", "\u22120.05", "0", "0.05", "0.1", "0.15"];
const legendLabels = ["cross\u2013shore", "alongshore"];

// ---------- drawing ----------
const svg = d3.select("#chart");
const INK = "#1c1c1c";
const TICK_FONT = 27.5;
const DOT_R = 4.5;

function fmt(v) { return v === 0 ? "0" : String(v).replace("-", "\u2212"); }

function panel(cfg) {
  const x = d3.scaleLinear().domain(cfg.xDomain).range([cfg.left, cfg.right]);
  const y = d3.scaleLinear().domain(cfg.yDomain).range([cfg.bottom, cfg.top]);
  const g = svg.append("g");
  const tl = 9;

  const styleAxis = sel => {
    sel.select(".domain").remove();
    sel.selectAll(".tick line").attr("stroke", INK).attr("stroke-width", 1.3);
    sel.selectAll(".tick text").attr("font-size", TICK_FONT).attr("fill", INK)
       .attr("font-family", '"Liberation Sans", Arial, sans-serif');
  };

  g.append("g").attr("transform", `translate(0,${cfg.bottom})`)
    .call(d3.axisBottom(x).tickValues(dayTicks).tickSize(-tl).tickPadding(13).tickFormat(d3.format("d")))
    .call(styleAxis);
  g.append("g").attr("transform", `translate(0,${cfg.top})`)
    .call(d3.axisTop(x).tickValues(dayTicks).tickSize(-tl).tickFormat(""))
    .call(styleAxis);
  g.append("g").attr("transform", `translate(${cfg.left},0)`)
    .call(d3.axisLeft(y).tickValues(cfg.yTicks).tickSize(-tl).tickPadding(7)
      .tickFormat((d, i) => cfg.yLabels ? cfg.yLabels[i] : fmt(d)))
    .call(styleAxis);
  g.append("g").attr("transform", `translate(${cfg.right},0)`)
    .call(d3.axisRight(y).tickValues(cfg.yTicks).tickSize(-tl).tickFormat(""))
    .call(styleAxis);

  g.append("rect").attr("x", cfg.left).attr("y", cfg.top)
    .attr("width", cfg.right - cfg.left).attr("height", cfg.bottom - cfg.top)
    .attr("fill", "none").attr("stroke", INK).attr("stroke-width", 1.6);

  g.append("text")
    .attr("transform", `translate(${cfg.labelX},${(cfg.top + cfg.bottom) / 2}) rotate(-90)`)
    .attr("text-anchor", "middle").attr("dy", "0.35em")
    .attr("font-size", 31).text(cfg.label);

  return { x, y, g };
}

function dots(p, data) {
  p.g.append("g").selectAll("circle").data(data).join("circle")
    .attr("cx", d => p.x(d[0])).attr("cy", d => p.y(d[1]))
    .attr("r", DOT_R).attr("fill", "#111");
}

const p1 = panel({ xDomain: [243, 267], yDomain: [0, 2], left: 124, right: 1026, top: 19, bottom: 360,
  yTicks: hsTicks, label: "Hs (m)", labelX: 83 });
dots(p1, hsData);
dots(p1, hsSpread);

const p2 = panel({ xDomain: [243, 267], yDomain: [0, 0.3], left: 124, right: 1027, top: 471, bottom: 810,
  yTicks: ubrmsTicks, label: "Ubrms (m/s)", labelX: 57 });
dots(p2, ubrmsData);
dots(p2, ubrmsSpread);

const p3 = panel({ xDomain: [243, 268], yDomain: [-0.15, 0.15], left: 123, right: 1027, top: 922, bottom: 1262,
  yTicks: currentTicks, yLabels: currentTickLabels, label: "Mean Currents", labelX: 23 });

p3.g.append("path").datum(alongShore)
  .attr("d", d3.line().x(d => p3.x(d[0])).y(d => p3.y(d[1])))
  .attr("fill", "none").attr("stroke", "#555").attr("stroke-width", 0.9)
  .attr("stroke-dasharray", "5,5");
dots(p3, crossShore);

svg.append("text").attr("x", (123 + 1027) / 2).attr("y", 1328)
  .attr("text-anchor", "middle").attr("font-size", 33).attr("letter-spacing", 1)
  .text("Yearday");

const lg = svg.append("g");
lg.append("rect").attr("x", 763).attr("y", 932).attr("width", 255).attr("height", 72)
  .attr("fill", "#e0e0e0").attr("stroke", INK).attr("stroke-width", 1.4);
lg.append("circle").attr("cx", 804).attr("cy", 951).attr("r", 4.2).attr("fill", "#111");
lg.append("line").attr("x1", 779).attr("x2", 830).attr("y1", 986).attr("y2", 986)
  .attr("stroke", "#222").attr("stroke-width", 1.6).attr("stroke-dasharray", "8,9");
lg.selectAll("text.lab").data(legendLabels).join("text")
  .attr("x", 844).attr("y", (d, i) => 961 + i * 32)
  .attr("font-size", TICK_FONT).text(d => d);
</script>
</body></html>
